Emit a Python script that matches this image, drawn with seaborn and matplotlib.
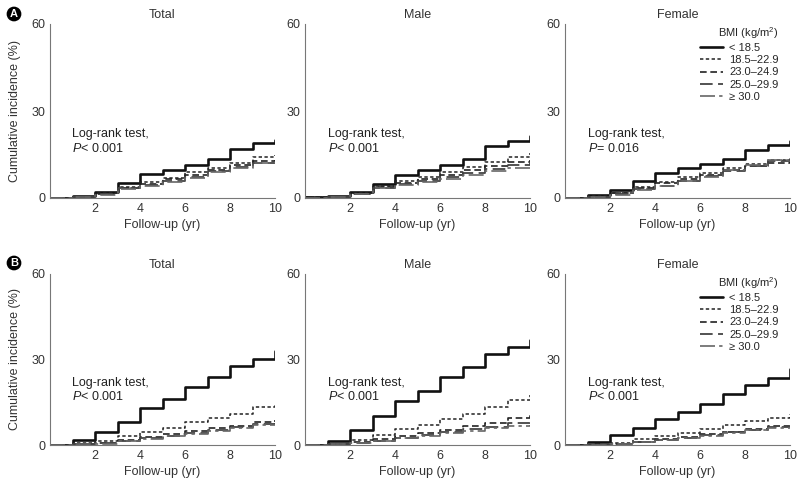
import numpy as np
import pandas as pd
import matplotlib
matplotlib.use("Agg")
import matplotlib.pyplot as plt
import seaborn as sns

# follow-up years; value i holds from year i to i+1, last value is the jump at year 10
years = list(range(0, 11))
bmi_groups = ["< 18.5", "18.5\u201322.9", "23.0\u201324.9", "25.0\u201329.9", "\u2265 30.0"]
panel_titles = ["Total", "Male", "Female"]
pvalue_text = {
    ("A", "Total"): "$\\it{P}$< 0.001",
    ("A", "Male"): "$\\it{P}$< 0.001",
    ("A", "Female"): "$\\it{P}$= 0.016",
    ("B", "Total"): "$\\it{P}$< 0.001",
    ("B", "Male"): "$\\it{P}$< 0.001",
    ("B", "Female"): "$\\it{P}$< 0.001",
}

# Panel A
a_total = [
    [0, 0.6, 2.0, 5.3, 8.2, 9.7, 11.4, 13.4, 17.0, 18.9, 20.0],
    [0, 0.4, 1.7, 3.9, 5.5, 7.0, 8.9, 10.4, 12.1, 14.3, 15.0],
    [0, 0.3, 1.5, 3.6, 5.0, 6.5, 8.0, 9.8, 11.5, 12.8, 13.2],
    [0, 0.3, 1.3, 3.3, 4.6, 6.0, 7.3, 9.2, 10.6, 12.2, 12.5],
    [0, 0.3, 1.2, 3.0, 4.3, 5.6, 7.0, 8.8, 10.3, 12.0, 12.4],
]
a_male = [
    [0.4, 0.7, 2.0, 4.9, 8.1, 9.7, 11.3, 13.6, 17.8, 19.7, 21.5],
    [0.2, 0.5, 1.7, 4.0, 5.8, 7.3, 9.0, 10.8, 12.5, 14.3, 15.5],
    [0.2, 0.4, 1.5, 3.7, 5.2, 6.6, 8.1, 9.5, 11.0, 12.3, 13.0],
    [0.1, 0.3, 1.4, 3.5, 4.7, 5.8, 7.2, 8.5, 10.0, 11.5, 12.0],
    [0.1, 0.3, 1.3, 3.3, 4.4, 5.5, 6.7, 7.8, 9.3, 10.5, 11.0],
]
a_female = [
    [0, 0.9, 2.6, 5.8, 8.7, 10.2, 11.8, 13.6, 16.5, 18.4, 19.8],
    [0, 0.6, 1.8, 3.7, 5.5, 7.2, 8.7, 10.3, 11.8, 13.2, 14.5],
    [0, 0.5, 1.6, 3.5, 5.2, 6.7, 8.0, 9.7, 11.2, 12.2, 12.5],
    [0, 0.4, 1.3, 3.0, 4.3, 6.0, 7.5, 9.2, 11.0, 12.6, 13.0],
    [0, 0.3, 1.1, 2.8, 4.0, 5.8, 7.3, 9.5, 11.3, 13.2, 13.8],
]

# Panel B
b_total = [
    [0, 1.6, 4.5, 8.0, 13.1, 16.3, 20.3, 23.7, 27.6, 30.1, 33.0],
    [0, 0.6, 1.3, 3.0, 4.5, 6.0, 8.0, 9.5, 11.0, 13.3, 14.2],
    [0, 0.3, 0.8, 1.8, 2.8, 3.8, 4.8, 6.0, 6.8, 8.2, 8.6],
    [0, 0.3, 0.6, 1.5, 2.3, 3.3, 4.3, 5.3, 6.3, 7.3, 7.6],
    [0, 0.2, 0.5, 1.3, 2.1, 3.0, 4.0, 5.0, 6.0, 7.0, 7.3],
]
b_male = [
    [0, 1.4, 5.4, 10.2, 15.5, 19.1, 23.7, 27.3, 31.9, 34.4, 37.0],
    [0, 0.5, 1.6, 3.5, 5.5, 7.1, 9.0, 10.8, 13.2, 15.7, 17.5],
    [0, 0.3, 1.0, 2.2, 3.2, 4.2, 5.4, 6.5, 7.7, 9.3, 10.5],
    [0, 0.2, 0.7, 1.5, 2.5, 3.5, 4.4, 5.5, 6.3, 7.8, 8.2],
    [0, 0.2, 0.6, 1.3, 2.3, 3.2, 4.1, 5.0, 5.8, 6.8, 7.0],
]
b_female = [
    [0, 1.0, 3.6, 5.8, 9.0, 11.6, 14.4, 18.0, 21.0, 23.6, 26.5],
    [0, 0.3, 0.8, 2.0, 3.2, 4.3, 5.6, 7.1, 8.3, 9.5, 10.8],
    [0, 0.2, 0.5, 1.2, 2.0, 2.8, 3.7, 4.6, 5.7, 6.8, 7.5],
    [0, 0.2, 0.4, 1.0, 1.7, 2.6, 3.5, 4.4, 5.3, 6.3, 6.8],
    [0, 0.1, 0.3, 0.9, 1.6, 2.4, 3.3, 4.2, 5.1, 6.0, 6.3],
]

data = {
    "A": {"Total": a_total, "Male": a_male, "Female": a_female},
    "B": {"Total": b_total, "Male": b_male, "Female": b_female},
}

# line look per BMI group
styles = {
    "< 18.5": dict(color="#111111", lw=1.9, ls="-"),
    "18.5\u201322.9": dict(color="#222222", lw=1.1, ls=(0, (2.2, 1.6))),
    "23.0\u201324.9": dict(color="#222222", lw=1.2, ls=(0, (4, 2.2))),
    "25.0\u201329.9": dict(color="#444444", lw=1.3, ls=(0, (7, 3))),
    "\u2265 30.0": dict(color="#666666", lw=1.2, ls=(0, (9, 2.5, 2, 2.5))),
}

sns.set_style("white")
plt.rcParams["font.family"] = ["Liberation Sans", "DejaVu Sans"]
plt.rcParams["mathtext.fontset"] = "custom"
plt.rcParams["mathtext.it"] = "Liberation Sans:italic"
plt.rcParams["mathtext.rm"] = "Liberation Sans"

fig = plt.figure(figsize=(7.99, 4.91), dpi=100)

lefts = [50 / 799, 305 / 799, 565 / 799]
width = 225 / 799
rows = {"A": (1 - 198 / 491, 174 / 491), "B": (1 - 445 / 491, 171 / 491)}
fs = 9

for panel, (bottom, height) in rows.items():
    for j, title in enumerate(panel_titles):
        ax = fig.add_axes([lefts[j], bottom, width, height])
        rows_df = []
        for g, vals in zip(bmi_groups, data[panel][title]):
            for yr, v in zip(years, vals):
                rows_df.append({"year": yr, "inc": v, "bmi": g})
        df = pd.DataFrame(rows_df)
        for g in bmi_groups:
            st = styles[g]
            sns.lineplot(data=df[df["bmi"] == g], x="year", y="inc", ax=ax,
                         color=st["color"], linewidth=st["lw"], linestyle=st["ls"],
                         drawstyle="steps-post", label=g, legend=False)
        ax.set_xlim(0, 10)
        ax.set_ylim(0, 60)
        ax.set_xticks([2, 4, 6, 8, 10])
        ax.set_yticks([0, 30, 60])
        ax.tick_params(direction="in", length=3, labelsize=fs, colors="#333333", width=0.7)
        for side in ["top", "right"]:
            ax.spines[side].set_visible(False)
        for side in ["left", "bottom"]:
            ax.spines[side].set_color("#777777")
            ax.spines[side].set_linewidth(0.8)
        ax.set_title(title, fontsize=fs, color="#333333", pad=4)
        ax.set_xlabel("Follow-up (yr)", fontsize=fs, color="#333333", labelpad=3)
        if j == 0:
            ax.set_ylabel("Cumulative incidence (%)", fontsize=fs, color="#333333", labelpad=7)
        else:
            ax.set_ylabel("")
        ax.text(0.1, 0.365, "Log-rank test,", transform=ax.transAxes, fontsize=fs,
                color="#222222", va="center")
        ax.text(0.1, 0.285, pvalue_text[(panel, title)], transform=ax.transAxes,
                fontsize=fs, color="#222222", va="center")
        if title == "Female":
            leg = ax.legend(title="BMI (kg/m$^2$)", loc="upper right", frameon=False,
                            fontsize=8, title_fontsize=8, handlelength=2.0,
                            handletextpad=0.6, labelspacing=0.2,
                            bbox_to_anchor=(0.97, 1.02), borderaxespad=0)
            leg._legend_box.align = "right"

for label, y in [("A", 14 / 491), ("B", 263 / 491)]:
    fig.text(14 / 799, 1 - y, label, fontsize=8, fontweight="bold", color="white",
             ha="center", va="center",
             bbox=dict(boxstyle="circle,pad=0.15", fc="black", ec="black"))

fig.savefig("out.png", dpi=100)
